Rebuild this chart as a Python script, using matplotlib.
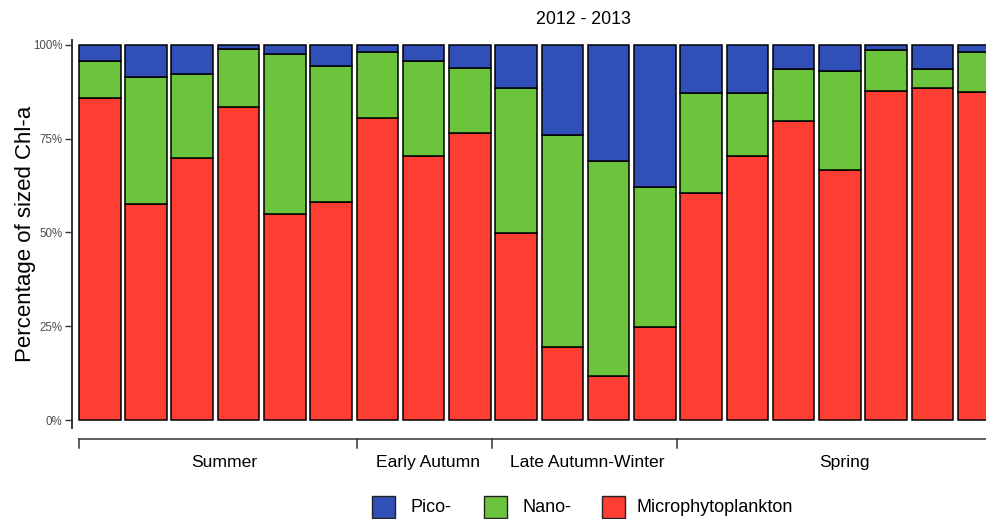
import matplotlib
matplotlib.use("Agg")
import matplotlib.pyplot as plt
from matplotlib.patches import Rectangle
import numpy as np

plt.rcParams['font.family'] = ['Liberation Sans', 'DejaVu Sans']

# ---- data (percent of sized Chl-a) ----
micro = [85.8, 57.6, 69.9, 83.5, 54.8, 58.0, 80.4, 70.3, 76.6, 49.8,
         19.4, 11.7, 24.7, 60.4, 70.3, 79.6, 66.6, 87.8, 88.5, 87.4]
nano = [9.8, 33.8, 22.4, 15.4, 42.8, 36.3, 17.8, 25.3, 17.2, 38.6,
        56.7, 57.3, 37.5, 26.7, 16.8, 14.0, 26.5, 10.8, 5.2, 10.8]
pico = [4.4, 8.6, 7.7, 1.1, 2.4, 5.7, 1.8, 4.4, 6.2, 11.6,
        23.9, 31.0, 37.8, 12.9, 12.9, 6.4, 6.9, 1.4, 6.3, 1.8]
seasons = ["Summer", "Early Autumn", "Late Autumn-Winter", "Spring"]
season_counts = [6, 3, 4, 7]
legend_labels = ["Pico-", "Nano-", "Microphytoplankton"]
yticks = [0, 0.25, 0.5, 0.75, 1.0]
ytick_labels = ["0%", "25%", "50%", "75%", "100%"]
title = "2012 - 2013"

c_pico = "#3050B8"
c_nano = "#6CC33C"
c_micro = "#FF3E33"

W, H = 987, 519
fig = plt.figure(figsize=(W / 100, H / 100), dpi=100)
ax = fig.add_axes([72 / W, 1 - 428 / H, (W - 72) / W, (428 - 40) / H])

m = np.array(micro)
n = np.array(nano)
p = np.array(pico)
tot = m + n + p
m, n, p = m / tot, n / tot, p / tot
x = np.arange(len(m))

kw = dict(width=0.9, edgecolor="black", linewidth=1.1)
ax.bar(x, m, color=c_micro, **kw)
ax.bar(x, n, bottom=m, color=c_nano, **kw)
ax.bar(x, p, bottom=m + n, color=c_pico, **kw)

ax.set_xlim(-0.601, 19.18)
ax.set_ylim(-0.021, 1.013)
ax.set_yticks(yticks)
ax.set_yticklabels(ytick_labels, fontsize=8.3, color="#4D4D4D")
ax.tick_params(axis="y", length=5, width=1.0, color="#333333", pad=2)
ax.set_xticks([])
for s in ["top", "right", "bottom"]:
    ax.spines[s].set_visible(False)
ax.spines["left"].set_linewidth(1.4)
ax.spines["left"].set_color("#333333")
ax.set_ylabel("Percentage of sized Chl-a", fontsize=16, labelpad=-2)

# ---- season bracket below the bars ----
tr = ax.get_xaxis_transform()
starts = np.concatenate([[0], np.cumsum(season_counts)[:-1]])
tick_off = [-0.45, -0.44, -0.52, -0.52]
tick_x = [s + o for s, o in zip(starts, tick_off)]
ax.plot([tick_x[0], 19.5], [-0.0284, -0.0284], transform=tr, color="#333333",
        lw=1.1, clip_on=False)
for tx in tick_x:
    ax.plot([tx, tx], [-0.0284, -0.0515], transform=tr, color="#333333",
            lw=1.1, clip_on=False)
label_pos = [2.7, 7.1, 10.55, 16.1]
for lab, lp in zip(seasons, label_pos):
    ax.text(lp, -0.088, lab, transform=tr, ha="center", va="center",
            fontsize=12.6, clip_on=False)

# ---- title ----
fig.text(583 / W, 1 - 19 / H, title, ha="center", va="center", fontsize=12.8)

# ---- legend ----
leg_x = [372, 484, 602]
txt_x = [410, 522, 637]
for lab, col, lx, tx in zip(legend_labels, [c_pico, c_nano, c_micro], leg_x, txt_x):
    fig.add_artist(Rectangle((lx / W, 1 - 518 / H), 23 / W, 22 / H,
                             transform=fig.transFigure, facecolor=col,
                             edgecolor="#222222", lw=1.0))
    fig.text(tx / W, 1 - 507 / H, lab, ha="left", va="center", fontsize=13)

fig.savefig("out.png", dpi=100)
